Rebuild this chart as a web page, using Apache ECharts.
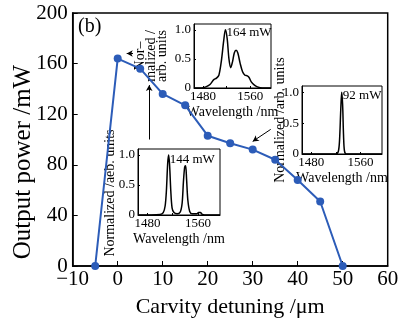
<!DOCTYPE html>
<html>
<head>
<meta charset="utf-8">
<script src="https://cdn.jsdelivr.net/npm/echarts@6/dist/echarts.min.js"></script>
<style>
  html, body { margin: 0; padding: 0; background: #fff; }
  #chart { width: 404px; height: 323px; }
</style>
</head>
<body>
<div id="chart"></div>
<script>
// main curve: output power vs cavity detuning
const detuning = [-5, 0, 5, 10, 15, 20, 25, 30, 35, 40, 45, 50]
const power = [0, 164, 156, 136, 127, 103, 97, 92, 84, 68, 51, 0]

const xTicks = ['−10', '0', '10', '20', '30', '40', '50', '60']

// inset spectra [wavelength nm, normalized]
const spec164 = [
    [1465, 0], [1478, 0], [1485, 0.02], [1492, 0.06], [1498, 0.14], [1503, 0.17],
    [1507, 0.22], [1511, 0.45], [1515, 0.8], [1518, 1.0], [1521, 0.85], [1524, 0.5],
    [1527, 0.35], [1530, 0.45], [1533, 0.6], [1536, 0.65], [1539, 0.6], [1543, 0.42],
    [1547, 0.28], [1551, 0.22], [1555, 0.21], [1558, 0.18], [1562, 0.1], [1567, 0.05],
    [1572, 0.02], [1580, 0], [1595, 0]
]
const spec92 = [
    [1465, 0], [1520, 0], [1524, 0.04], [1526, 0.22], [1528, 0.72], [1529.5, 1.0],
    [1531, 0.8], [1532.5, 0.3], [1534, 0.05], [1537, 0], [1595, 0]
]
const spec144 = [
    [1465, 0], [1500, 0.01], [1505, 0.04], [1508, 0.15], [1510, 0.4], [1512, 0.85],
    [1513.5, 1.0], [1515, 0.85], [1517, 0.4], [1519, 0.12], [1522, 0.04], [1527, 0.02],
    [1532, 0.05], [1535, 0.2], [1537, 0.55], [1539, 0.8], [1540.5, 0.82], [1542, 0.6],
    [1544, 0.25], [1547, 0.06], [1551, 0.02], [1558, 0.02], [1561, 0.04], [1564, 0.04],
    [1567, 0.01], [1575, 0], [1595, 0]
]
const insetPeaks = [
    { name: '164 mW', coord: [1519, 0.95] },
    { name: '92 mW', coord: [1530.5, 0.95] },
    { name: '144 mW', coord: [1514.5, 0.93] }
]

// arrows in main data coords [from, to]
const arrows = [
    [[3.4, 168], [2.0, 168]],
    [[7.0, 100], [7.0, 143]],
    [[34, 108], [30, 98.5]]
]

const FONT = 'Liberation Serif'
const blue = '#2c5cb8'

const insetGrids = [
    { left: 194, top: 24, width: 77, height: 64 },
    { left: 302, top: 86, width: 80, height: 68 },
    { left: 138, top: 149, width: 82, height: 66 }
]
const insetYNames = ['Nor–\nmalized /\narb. units', 'Normalized /arb. units', 'Normalized /aeb. units']
const insetYGaps = [26, 16, 22]
const insetYPads = [0, 0, [0, 22, 0, 0]]
const spectra = [spec164, spec92, spec144]

const grids = [{ left: 72.7, right: 16.3, top: 13, bottom: 55, show: true, borderColor: '#000', borderWidth: 1.5 }]
insetGrids.forEach(g => grids.push(Object.assign({ show: true, borderColor: '#000', borderWidth: 1, backgroundColor: '#fff' }, g)))

const xAxes = [{
    gridIndex: 0, type: 'value', min: -10, max: 60, interval: 10,
    axisLine: { show: true, onZero: false, lineStyle: { color: '#000', width: 1.5 } },
    axisTick: { inside: true, length: 5, lineStyle: { color: '#000' } },
    axisLabel: { color: '#000', fontFamily: FONT, fontSize: 21, margin: 3, formatter: (v) => xTicks[(v + 10) / 10] },
    splitLine: { show: false },
    name: 'Carvity detuning /μm', nameLocation: 'middle', nameGap: 30, nameMoveOverlap: false,
    nameTextStyle: { color: '#000', fontFamily: FONT, fontSize: 22 }
}]
const yAxes = [{
    gridIndex: 0, type: 'value', min: 0, max: 200, interval: 40,
    axisLine: { show: true, onZero: false, lineStyle: { color: '#000', width: 1.5 } },
    axisTick: { inside: true, length: 5, lineStyle: { color: '#000' } },
    axisLabel: { color: '#000', fontFamily: FONT, fontSize: 21, margin: 5 },
    splitLine: { show: false }
}]

insetGrids.forEach((g, i) => {
    xAxes.push({
        gridIndex: i + 1, type: 'value', min: 1465, max: 1595,
        axisLine: { show: true, onZero: false, lineStyle: { color: '#000', width: 1 } },
        axisTick: { inside: true, length: 2, customValues: [1480, 1520, 1560], lineStyle: { color: '#000' } },
        axisLabel: {
            color: '#000', fontFamily: FONT, fontSize: 13, margin: 2, customValues: [1480, 1560],
            formatter: (v) => String(v)
        },
        splitLine: { show: false },
        name: 'Wavelength /nm', nameLocation: 'middle', nameGap: 17, nameMoveOverlap: false,
        nameTextStyle: { color: '#000', fontFamily: FONT, fontSize: 14 }
    })
    yAxes.push({
        gridIndex: i + 1, type: 'value', min: 0, max: 1.1,
        axisLine: { show: true, onZero: false, lineStyle: { color: '#000', width: 1 } },
        axisTick: { inside: true, length: 2, customValues: [0, 0.5, 1], lineStyle: { color: '#000' } },
        axisLabel: {
            color: '#000', fontFamily: FONT, fontSize: 13, margin: 3, customValues: [0, 0.5, 1],
            formatter: (v) => v === 0 ? '0' : v.toFixed(1)
        },
        splitLine: { show: false },
        name: insetYNames[i], nameLocation: 'middle', nameGap: insetYGaps[i], nameRotate: 90, nameMoveOverlap: false,
        nameTextStyle: { color: '#000', fontFamily: FONT, fontSize: 14, lineHeight: 11, padding: insetYPads[i] }
    })
})

const series = [{
    type: 'line', xAxisIndex: 0, yAxisIndex: 0,
    data: detuning.map((d, i) => [d, power[i]]),
    symbol: 'circle', symbolSize: 8,
    lineStyle: { color: blue, width: 2 },
    itemStyle: { color: blue },
    clip: false, z: 1,
    markLine: {
        silent: true, symbol: ['none', 'arrow'], symbolSize: [5, 6],
        lineStyle: { color: '#000', width: 1, type: 'solid' },
        label: { show: false },
        data: arrows.map(a => [{ coord: a[0] }, { coord: a[1] }])
    }
}]
spectra.forEach((s, i) => {
    series.push({
        type: 'line', xAxisIndex: i + 1, yAxisIndex: i + 1,
        data: s, smooth: 0.3, symbol: 'none',
        lineStyle: { color: '#000', width: 1.5 },
        z: 5,
        markPoint: {
            symbol: 'rect', symbolSize: 1, itemStyle: { color: 'transparent' },
            label: { show: true, position: 'right', distance: 0, formatter: '{b}', color: '#000', fontFamily: FONT, fontSize: 13 },
            data: [insetPeaks[i]]
        }
    })
})

const chart = echarts.init(document.getElementById('chart'), null, { renderer: 'canvas' })
chart.setOption({
    animation: false,
    backgroundColor: '#fff',
    grid: grids,
    xAxis: xAxes,
    yAxis: yAxes,
    series: series,
    graphic: [
        { type: 'text', left: 78, top: 17, style: { text: '(b)', font: '20px "Liberation Serif"', fill: '#000' } },
        {
            type: 'text', x: 23, y: 162, rotation: Math.PI / 2,
            style: { text: 'Output power /mW', font: '25px "Liberation Serif"', fill: '#000', align: 'center', verticalAlign: 'middle' }
        }
    ]
})
</script>
</body>
</html>
